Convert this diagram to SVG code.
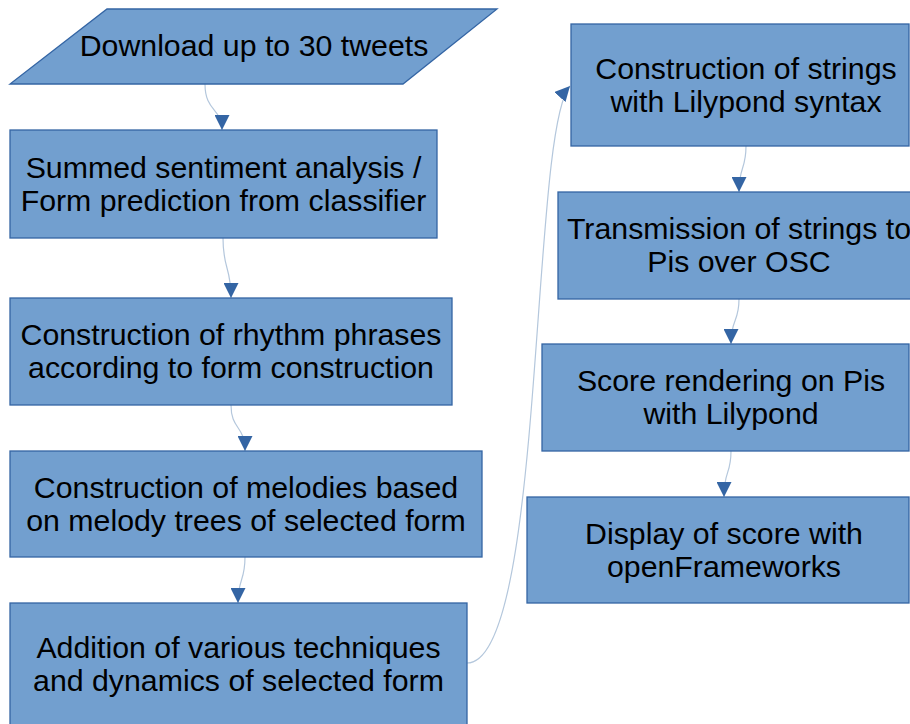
<svg xmlns="http://www.w3.org/2000/svg" width="910" height="724" viewBox="0 0 910 724">
<style>
.n{fill:#729fcf;stroke:#3465a4;stroke-width:1.3}
.t{font-family:"Liberation Sans",Arial,sans-serif;font-size:30.3px;fill:#000;text-anchor:middle}
.c{fill:none;stroke:#b4c7dc;stroke-width:1.2;marker-end:url(#ah)}
</style>
<defs>
<marker id="ah" markerUnits="userSpaceOnUse" markerWidth="15" markerHeight="15" viewBox="0 0 15 15" refX="15" refY="7.5" orient="auto">
<path d="M0,0 L15,7.5 L0,15 z" fill="#3465a4"/>
</marker>
</defs>
<rect width="910" height="724" fill="#fff"/>
<g id="connectors">
<path class="c" d="M205,84 C205,112 222,108 222,130"/>
<path class="c" d="M223,238 C223,270 231,266 231,298"/>
<path class="c" d="M231,405 C231,430 245,425 245,451"/>
<path class="c" d="M245,557 C245,582 238,578 238,603"/>
<path class="c" d="M467,663 C545,663 530,130 570,86"/>
<path class="c" d="M746,146 C746,170 739,166 739,192"/>
<path class="c" d="M739,299 C739,323 731,318 731,344"/>
<path class="c" d="M731,451 C731,475 724,470 724,497"/>
</g>
<g id="n0"><polygon class="n" points="107,9 497,9 403,84 10,84"/><text class="t" x="254" y="56">Download up to 30 tweets</text></g>
<g id="n1"><rect class="n" x="10" y="130" width="427" height="108"/><text class="t" x="223.5" y="177.5">Summed sentiment analysis /</text><text class="t" x="223.5" y="210.5">Form prediction from classifier</text></g>
<g id="n2"><rect class="n" x="10" y="298" width="442" height="107"/><text class="t" x="231" y="345">Construction of rhythm phrases</text><text class="t" x="231" y="378">according to form construction</text></g>
<g id="n3"><rect class="n" x="10" y="451" width="472" height="106"/><text class="t" x="246" y="497.5">Construction of melodies based</text><text class="t" x="246" y="530.5">on melody trees of selected form</text></g>
<g id="n4"><rect class="n" x="10" y="603" width="457" height="124"/><text class="t" x="238.5" y="658">Addition of various techniques</text><text class="t" x="238.5" y="691">and dynamics of selected form</text></g>
<g id="n5"><rect class="n" x="571" y="24" width="338" height="122"/><text class="t" x="746" y="78.5">Construction of strings</text><text class="t" x="746" y="111.5">with Lilypond syntax</text></g>
<g id="n6"><rect class="n" x="558" y="192" width="363" height="107"/><text class="t" x="739" y="239">Transmission of strings to</text><text class="t" x="739" y="272">Pis over OSC</text></g>
<g id="n7"><rect class="n" x="542" y="344" width="367" height="107"/><text class="t" x="731" y="391">Score rendering on Pis</text><text class="t" x="731" y="424">with Lilypond</text></g>
<g id="n8"><rect class="n" x="527" y="497" width="382" height="106"/><text class="t" x="724" y="543.5">Display of score with</text><text class="t" x="724" y="576.5">openFrameworks</text></g>
</svg>
